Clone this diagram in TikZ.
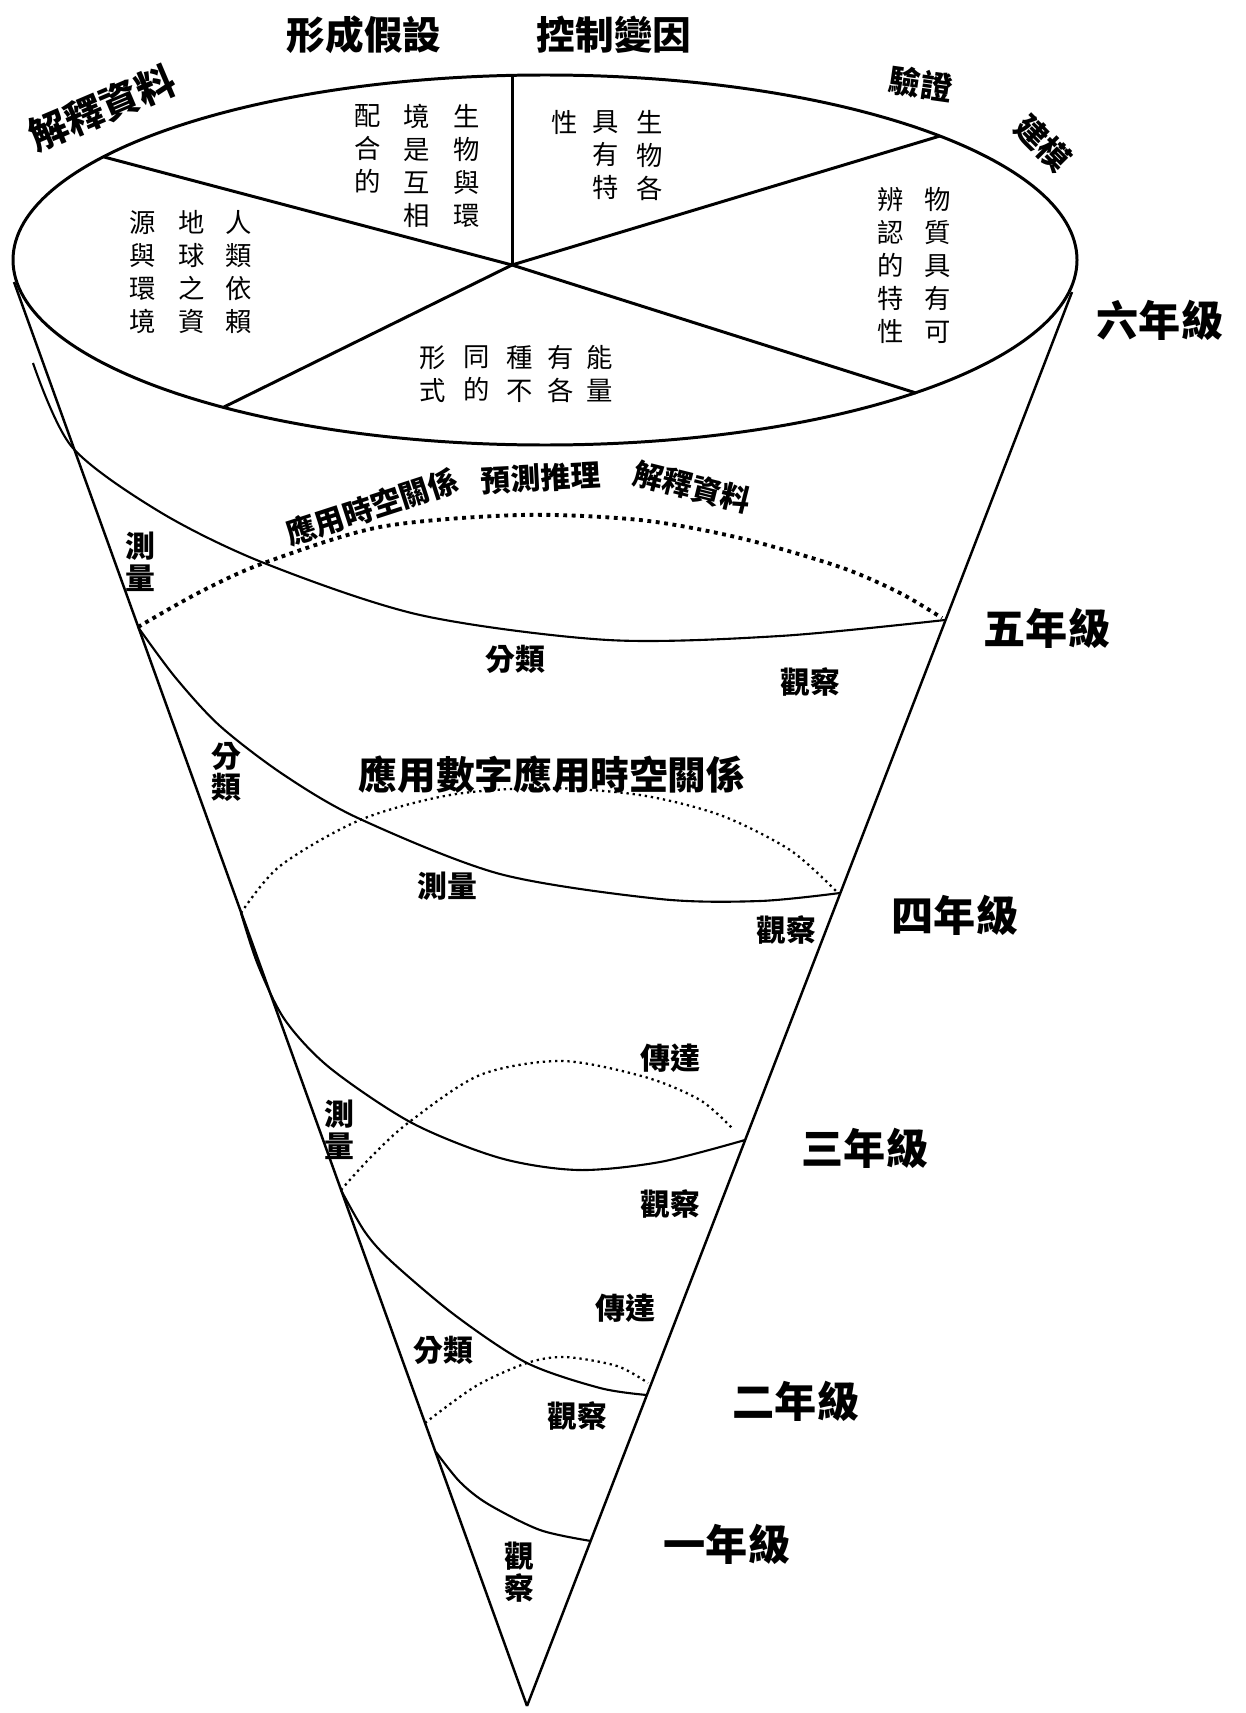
\documentclass[tikz,border=0pt]{standalone}
\usepackage{fontspec}
\newfontfamily\ming{Noto Sans CJK TC}
\newfontfamily\hei{Noto Sans CJK TC}
\tikzset{
  rim/.style={line width=1.7pt},
  side/.style={line width=1.4pt},
  front/.style={line width=1.2pt},
  back/.style={line width=1.3pt, dash pattern=on 1.3pt off 2.2pt},
  backbold/.style={line width=2.2pt, dash pattern=on 2.2pt off 2.6pt},
  ming/.style={font=\ming\fontsize{15}{18.8}\selectfont, align=center, anchor=north, inner sep=0pt},
  topskill/.style={font=\hei\bfseries\fontsize{22}{24}\selectfont, inner sep=0pt},
  grade/.style={font=\hei\bfseries\fontsize{24}{26}\selectfont, inner sep=0pt},
  skill/.style={font=\hei\bfseries\fontsize{17}{18}\selectfont, align=center, inner sep=0pt},
  bigskill/.style={font=\hei\bfseries\fontsize{22}{24}\selectfont, inner sep=0pt}
}
\begin{document}
\begin{tikzpicture}[x=0.02cm,y=-0.02cm]
\useasboundingbox (0,0) rectangle (1246,1713);

% top disc
\coordinate (ec) at (545,260);
\coordinate (pc) at (512,265);
\coordinate (p1) at (512,76);
\coordinate (p2) at (940,136);
\coordinate (p3) at (916,393);
\coordinate (p4) at (224,407);
\coordinate (p5) at (104,157);
\draw[rim] (ec) ellipse [x radius=532, y radius=185];
\path[draw,rim] (pc) -- (p1);
\path[draw,rim] (pc) -- (p2);
\path[draw,rim] (pc) -- (p3);
\path[draw,rim] (pc) -- (p4);
\path[draw,rim] (pc) -- (p5);

% cone
\coordinate (cl) at (14,282);
\coordinate (cr) at (1072,292);
\coordinate (tip) at (527,1706);
\path[draw,side] (cl) -- (tip);
\path[draw,side] (cr) -- (tip);

% ring ends on the sides
\coordinate (g5l) at (138,627);
\coordinate (g5r) at (945,620);
\coordinate (g4l) at (241,913);
\coordinate (g4r) at (840,893);
\coordinate (g3l) at (341,1190);
\coordinate (g3r) at (745,1140);
\coordinate (g2l) at (425,1423);
\coordinate (g2r) at (647,1395);
\coordinate (g1l) at (436,1452);
\coordinate (g1r) at (591,1541);

% grade 5
\draw[front] plot[smooth] coordinates {(33,363) (72,447) (160,512) (264,563) (420,615) (608,640) (780,636) (g5r)};
\draw[backbold] plot[smooth] coordinates {(g5l) (200,592) (264,563) (380,527) (520,515) (640,520) (740,538) (840,567) (900,593) (942,618)};
% grade 4
\draw[front] plot[smooth] coordinates {(g5l) (175,677) (220,726) (284,775) (360,819) (500,874) (660,899) (760,901) (g4r)};
\draw[back] plot[smooth] coordinates {(g4l) (280,866) (360,820) (450,795) (544,788) (640,795) (720,815) (790,850) (836,891)};
% grade 3
\draw[front] plot[smooth] coordinates {(g4l) (258,965) (285,1020) (330,1068) (412,1123) (500,1158) (578,1170) (660,1162) (g3r)};
\draw[back] plot[smooth] coordinates {(g3l) (370,1158) (408,1123) (480,1075) (562,1061) (645,1077) (700,1100) (732,1128)};
% grade 2
\draw[front] plot[smooth] coordinates {(g3l) (365,1232) (392,1262) (456,1316) (527,1363) (600,1388) (g2r)};
\draw[back] plot[smooth] coordinates {(g2l) (476,1386) (527,1363) (565,1357) (617,1366) (648,1383)};
% grade 1
\draw[front] plot[smooth] coordinates {(g1l) (460,1482) (488,1504) (540,1530) (g1r)};

% texts in the disc
\node[ming] (t1a) at (239,210) {人\\類\\依\\賴};
\node[ming] (t1b) at (192,210) {地\\球\\之\\資};
\node[ming] (t1c) at (143,210) {源\\與\\環\\境};
\node[ming] (t2a) at (467,104) {生\\物\\與\\環};
\node[ming] (t2b) at (417,104) {境\\是\\互\\相};
\node[ming] (t2c) at (368,104) {配\\合\\的};
\node[ming] (t3a) at (650,110) {生\\物\\各};
\node[ming] (t3b) at (606,110) {具\\有\\特};
\node[ming] (t3c) at (565,110) {性};
\node[ming] (t4a) at (938,187) {物\\質\\具\\有\\可};
\node[ming] (t4b) at (891,187) {辨\\認\\的\\特\\性};
\node[ming] (t5a) at (600,345) {能\\量};
\node[ming] (t5b) at (561,345) {有\\各};
\node[ming] (t5c) at (520,345) {種\\不};
\node[ming] (t5d) at (477,345) {同\\的};
\node[ming] (t5e) at (433,345) {形\\式};

% skills round the disc
\node[topskill] (hyp) at (364,35) {形成假設};
\node[topskill] (ctrl) at (614,35) {控制變因};
\node[topskill, rotate=23] (interp) at (102,108) {解釋資料};
\node[skill, font=\hei\bfseries\fontsize{18}{19}\selectfont, rotate=-8] (verify) at (921,84) {驗證};
\node[skill, font=\hei\bfseries\fontsize{18}{19}\selectfont, rotate=-45] (model) at (1043,143) {建模};

% grades
\node[grade] (six) at (1160,320) {六年級};
\node[grade] (five) at (1047,628) {五年級};
\node[grade] (four) at (955,915) {四年級};
\node[grade] (three) at (865,1148) {三年級};
\node[grade] (two) at (796,1401) {二年級};
\node[grade] (one) at (727,1544) {一年級};

% skills of each grade
\node[skill, rotate=18] (s5a) at (372,507) {應用時空關係};
\node[skill, rotate=3] (s5b) at (541,478) {預測推理};
\node[skill, rotate=-14] (s5c) at (692,487) {解釋資料};
\node[skill] (s5d) at (140,562) {測\\量};
\node[skill] (s5e) at (515,659) {分類};
\node[skill] (s5f) at (810,682) {觀察};
\node[skill] (s4a) at (226,772) {分\\類};
\node[bigskill] (s4b) at (552,775) {應用數字應用時空關係};
\node[skill] (s4c) at (447,886) {測量};
\node[skill] (s4d) at (786,930) {觀察};
\node[skill] (s3a) at (670,1058) {傳達};
\node[skill] (s3b) at (339,1130) {測\\量};
\node[skill] (s3c) at (670,1204) {觀察};
\node[skill] (s2a) at (625,1308) {傳達};
\node[skill] (s2b) at (443,1350) {分類};
\node[skill] (s2c) at (577,1416) {觀察};
\node[skill] (s1a) at (519,1572) {觀\\察};
\end{tikzpicture}
\end{document}
